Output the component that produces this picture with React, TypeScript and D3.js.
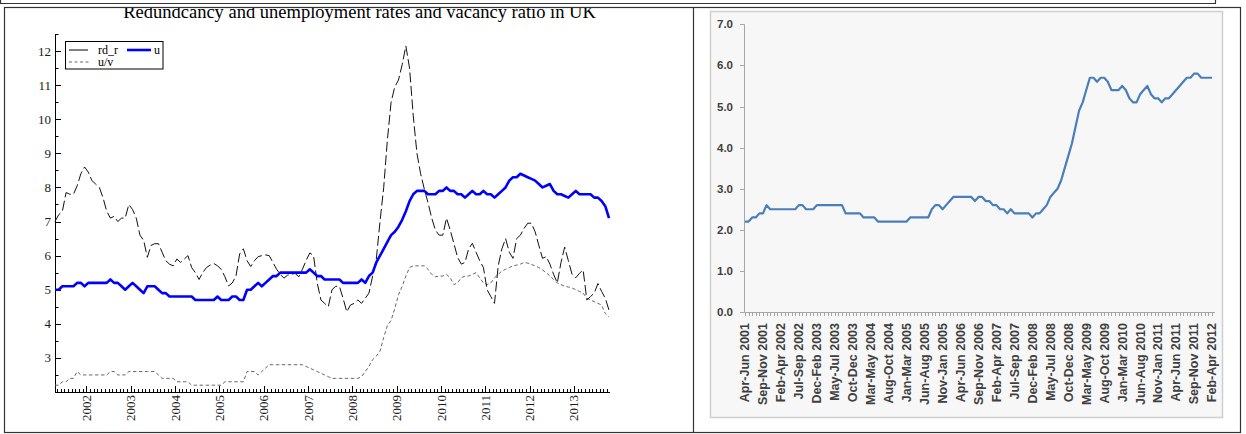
import React from "react";
import * as d3 from "d3";

// ---- left chart (monthly, first observation 2001M04) ----
const leftTitle = "Redundcancy and unemployment rates and vacancy ratio in UK";
const startYear = 2001;
const startMonth = 4;

const rdR: number[] = [
  7.0, 7.2, 7.3, 7.85, 7.8, 7.8, 8.05, 8.4, 8.6, // 2001
  8.45, 8.2, 8.1, 8.0, 7.7, 7.3, 7.1, 7.15, 7.0, 7.1, 7.1, 7.5, // 2002
  7.35, 7.1, 6.6, 6.45, 5.95, 6.3, 6.35, 6.35, 6.1, 5.85, 5.75, 5.7, // 2003
  5.9, 5.8, 5.9, 6.0, 5.65, 5.5, 5.3, 5.5, 5.65, 5.72, 5.77, 5.7, // 2004
  5.6, 5.38, 5.11, 5.2, 5.4, 6.05, 6.2, 5.85, 5.68, 5.85, 5.97, 6.0, // 2005
  6.02, 6.0, 5.8, 5.6, 5.45, 5.34, 5.43, 5.45, 5.48, 5.38, 5.6, 5.86, // 2006
  6.08, 6.0, 5.2, 4.7, 4.6, 4.5, 5.0, 5.1, 5.1, 4.75, 4.35, 4.55, // 2007
  4.6, 4.7, 4.6, 4.75, 4.9, 5.4, 5.9, 7.0, 8.0, 9.4, 10.5, 10.95, // 2008
  11.15, 11.6, 12.15, 11.5, 10.1, 9.0, 8.4, 7.95, 7.55, 7.1, 6.75, 6.6, // 2009
  6.6, 7.1, 6.75, 6.36, 5.95, 5.75, 5.8, 6.2, 6.36, 6.1, 5.85, 5.65, // 2010
  5.0, 4.8, 4.6, 5.7, 6.2, 6.5, 6.1, 5.92, 6.5, 6.6, 6.8, 6.95, // 2011
  6.95, 6.7, 6.3, 5.92, 5.97, 5.75, 5.45, 5.2, 5.8, 6.25, 5.85, 5.45, // 2012
  5.35, 5.48, 5.58, 4.7, 4.8, 4.9, 5.18, 4.95, 4.75, 4.4, // 2013
];

const unemp: number[] = [
  5.0, 5.0, 5.1, 5.1, 5.1, 5.1, 5.2, 5.2, 5.1,
  5.2, 5.2, 5.2, 5.2, 5.2, 5.2, 5.3, 5.2, 5.2, 5.1, 5.0, 5.1,
  5.2, 5.1, 5.0, 4.9, 5.1, 5.1, 5.1, 5.0, 4.9, 4.9, 4.8, 4.8,
  4.8, 4.8, 4.8, 4.8, 4.8, 4.7, 4.7, 4.7, 4.7, 4.7, 4.7, 4.8,
  4.7, 4.7, 4.7, 4.8, 4.8, 4.7, 4.7, 5.0, 5.0, 5.1, 5.2, 5.1,
  5.2, 5.3, 5.4, 5.4, 5.5, 5.5, 5.5, 5.5, 5.5, 5.5, 5.5, 5.5,
  5.6, 5.5, 5.4, 5.4, 5.3, 5.3, 5.3, 5.3, 5.3, 5.2, 5.2, 5.2,
  5.2, 5.2, 5.3, 5.2, 5.4, 5.5, 5.8, 6.0, 6.2, 6.4, 6.6, 6.7,
  6.85, 7.05, 7.3, 7.6, 7.8, 7.9, 7.9, 7.9, 7.8, 7.8, 7.8, 7.9,
  7.9, 8.0, 7.9, 7.9, 7.8, 7.8, 7.7, 7.8, 7.9, 7.8, 7.8, 7.9,
  7.8, 7.8, 7.7, 7.8, 7.9, 8.0, 8.2, 8.3, 8.3, 8.4, 8.35, 8.3,
  8.25, 8.2, 8.1, 8.0, 8.05, 8.1, 7.9, 7.8, 7.8, 7.75, 7.7, 7.8,
  7.9, 7.8, 7.8, 7.8, 7.8, 7.7, 7.7, 7.6, 7.45, 7.1,
];

const uOverV: number[] = [
  2.2, 2.2, 2.3, 2.3, 2.4, 2.4, 2.6, 2.5, 2.5,
  2.5, 2.5, 2.5, 2.5, 2.5, 2.5, 2.6, 2.6, 2.5, 2.5, 2.5, 2.6,
  2.6, 2.6, 2.6, 2.6, 2.6, 2.6, 2.6, 2.5, 2.4, 2.4, 2.4, 2.4,
  2.3, 2.3, 2.3, 2.3, 2.2, 2.2, 2.2, 2.2, 2.2, 2.2, 2.2, 2.2,
  2.2, 2.3, 2.3, 2.3, 2.3, 2.3, 2.3, 2.6, 2.6, 2.6, 2.5, 2.6,
  2.7, 2.8, 2.8, 2.8, 2.8, 2.8, 2.8, 2.8, 2.8, 2.8, 2.8, 2.75,
  2.7, 2.65, 2.6, 2.55, 2.5, 2.45, 2.4, 2.4, 2.4, 2.4, 2.4, 2.4,
  2.4, 2.4, 2.45, 2.6, 2.75, 2.95, 3.05, 3.2, 3.6, 3.95, 4.1, 4.45,
  4.85, 5.1, 5.4, 5.65, 5.7, 5.7, 5.7, 5.7, 5.6, 5.45, 5.38, 5.4,
  5.4, 5.45, 5.35, 5.15, 5.2, 5.35, 5.4, 5.4, 5.45, 5.5, 5.35, 5.2,
  5.15, 5.2, 5.35, 5.45, 5.55, 5.6, 5.65, 5.7, 5.72, 5.75, 5.8, 5.78,
  5.74, 5.7, 5.65, 5.58, 5.5, 5.4, 5.3, 5.2, 5.15, 5.1, 5.08, 5.05,
  5.0, 4.95, 4.9, 4.75, 4.7, 4.65, 4.6, 4.55, 4.3, 4.2,
];

const yearLabels = [2002, 2003, 2004, 2005, 2006, 2007, 2008, 2009, 2010, 2011, 2012, 2013];
const leftYTicks = [3, 4, 5, 6, 7, 8, 9, 10, 11, 12];

// ---- right chart (rolling three-month periods) ----
const rightPeriods = [
  "Apr-Jun 2001", "Sep-Nov 2001", "Feb-Apr 2002", "Jul-Sep 2002", "Dec-Feb 2003",
  "May-Jul 2003", "Oct-Dec 2003", "Mar-May 2004", "Aug-Oct 2004", "Jan-Mar 2005",
  "Jun-Aug 2005", "Nov-Jan 2005", "Apr-Jun 2006", "Sep-Nov 2006", "Feb-Apr 2007",
  "Jul-Sep 2007", "Dec-Feb 2008", "May-Jul 2008", "Oct-Dec 2008", "Mar-May 2009",
  "Aug-Oct 2009", "Jan-Mar 2010", "Jun-Aug 2010", "Nov-Jan 2011", "Apr-Jun 2011",
  "Sep-Nov 2011", "Feb-Apr 2012",
];
const labelEvery = 5;

const rightValues: number[] = [
  2.2, 2.2, 2.3, 2.3, 2.4, 2.4, 2.6, 2.5, 2.5, 2.5,
  2.5, 2.5, 2.5, 2.5, 2.5, 2.6, 2.6, 2.5, 2.5, 2.5,
  2.6, 2.6, 2.6, 2.6, 2.6, 2.6, 2.6, 2.6, 2.4, 2.4,
  2.4, 2.4, 2.4, 2.3, 2.3, 2.3, 2.3, 2.2, 2.2, 2.2,
  2.2, 2.2, 2.2, 2.2, 2.2, 2.2, 2.3, 2.3, 2.3, 2.3,
  2.3, 2.3, 2.5, 2.6, 2.6, 2.5, 2.6, 2.7, 2.8, 2.8,
  2.8, 2.8, 2.8, 2.8, 2.7, 2.8, 2.8, 2.7, 2.7, 2.6,
  2.6, 2.5, 2.5, 2.4, 2.5, 2.4, 2.4, 2.4, 2.4, 2.4,
  2.3, 2.4, 2.4, 2.5, 2.6, 2.8, 2.9, 3.0, 3.2, 3.5,
  3.8, 4.1, 4.5, 4.9, 5.1, 5.4, 5.7, 5.7, 5.6, 5.7,
  5.7, 5.6, 5.4, 5.4, 5.4, 5.5, 5.4, 5.2, 5.1, 5.1,
  5.3, 5.4, 5.5, 5.3, 5.2, 5.2, 5.1, 5.2, 5.2, 5.3,
  5.4, 5.5, 5.6, 5.7, 5.7, 5.8, 5.8, 5.7, 5.7, 5.7,
  5.7,
];
const rightYTicks = [0, 1, 2, 3, 4, 5, 6, 7];

const serif = "'Liberation Serif', 'Times New Roman', serif";
const sans = "'Liberation Sans', Arial, sans-serif";

const App: React.FC = () => {
  // left scales
  const monthT = (k: number) => startYear + (startMonth - 1 + k + 0.5) / 12;
  const xL = d3
    .scaleLinear()
    .domain([monthT(0), monthT(rdR.length - 1)])
    .range([55, 609]);
  const yL = d3.scaleLinear().domain([2, 12.5]).range([392, 34]);
  const lineL = (vals: number[]) =>
    d3
      .line<number>()
      .x((_, i) => xL(monthT(i)))
      .y((d) => yL(d))(vals) ?? "";

  const monthTicks = d3.range(rdR.length + 1).map((k) => startYear + (startMonth - 1 + k) / 12);
  const minorY = d3.range(2.5, 12.6, 1);

  // right scales
  const xR = d3.scaleLinear().domain([0, rightValues.length - 1]).range([745, 1212]);
  const yR = d3.scaleLinear().domain([0, 7]).range([312, 24.3]);
  const lineR =
    d3
      .line<number>()
      .x((_, i) => xR(i))
      .y((d) => yR(d))(rightValues) ?? "";

  const border = "#333";

  return (
    <svg
      width={1246}
      height={434}
      style={{ position: "absolute", left: 0, top: 0, background: "#fff" }}
    >
      <defs>
        <clipPath id="leftCell">
          <rect x={5} y={8} width={688} height={424} />
        </clipPath>
      </defs>

      {/* table borders */}
      <g stroke={border} strokeWidth={1.2} fill="none">
        <line x1={0} y1={3.5} x2={1216} y2={3.5} />
        <line x1={1215.5} y1={0} x2={1215.5} y2={3.5} />
        <line x1={0.5} y1={0} x2={0.5} y2={3.5} />
        <rect x={4.5} y={7.5} width={1236} height={425} />
        <line x1={693.5} y1={7.5} x2={693.5} y2={432.5} />
      </g>

      {/* left chart */}
      <g clipPath="url(#leftCell)" fontFamily={serif}>
        <text x={359.5} y={17.5} fontSize={18.5} textAnchor="middle" fill="#000">
          {leftTitle}
        </text>

        {/* axes */}
        <g stroke="#000" strokeWidth={1}>
          <line x1={55.5} y1={34} x2={55.5} y2={392.5} />
          <line x1={55} y1={392.5} x2={610} y2={392.5} />
          {leftYTicks.map((v) => (
            <line key={"ym" + v} x1={55.5} x2={61} y1={Math.round(yL(v)) + 0.5} y2={Math.round(yL(v)) + 0.5} />
          ))}
          {minorY.map((v) => (
            <line key={"yn" + v} x1={55.5} x2={58.5} y1={Math.round(yL(v)) + 0.5} y2={Math.round(yL(v)) + 0.5} />
          ))}
          {monthTicks.map((t, i) => {
            const isYear = Math.abs(t - Math.round(t)) < 1e-6;
            const x = Math.round(xL(t)) + 0.5;
            if (x < 55 || x > 610) return null;
            return <line key={"xt" + i} x1={x} x2={x} y1={392.5} y2={isYear ? 386 : 389} />;
          })}
        </g>

        {leftYTicks.map((v) => (
          <text key={"yl" + v} x={51} y={yL(v)} dy="0.35em" fontSize={13} textAnchor="end" fill="#1a1a1a">
            {v}
          </text>
        ))}
        {yearLabels.map((yr) => (
          <text
            key={"yr" + yr}
            transform={`translate(${xL(yr)},395) rotate(-90)`}
            dy="0.35em"
            fontSize={13}
            textAnchor="end"
            fill="#1a1a1a"
          >
            {yr}
          </text>
        ))}

        {/* series */}
        <path d={lineL(uOverV)} fill="none" stroke="#666" strokeWidth={1} strokeDasharray="3.5 2.5" />
        <path d={lineL(rdR)} fill="none" stroke="#111" strokeWidth={1} strokeDasharray="10 3.5" />
        <path d={lineL(unemp)} fill="none" stroke="#0000ff" strokeWidth={2.6} strokeLinejoin="round" />

        {/* legend */}
        <rect x={65.5} y={41.5} width={97.5} height={27.5} fill="#fff" stroke="#000" strokeWidth={1} />
        <line x1={69} x2={88} y1={50} y2={50} stroke="#000" strokeWidth={1} />
        <text x={98} y={54} fontSize={12} fill="#000">rd_r</text>
        <line x1={127} x2={151} y1={50} y2={50} stroke="#0000ff" strokeWidth={2.6} />
        <text x={154} y={54} fontSize={12} fill="#000">u</text>
        <line x1={69} x2={91} y1={62} y2={62} stroke="#666" strokeWidth={1} strokeDasharray="3 2.5" />
        <text x={98} y={66} fontSize={12} fill="#000">u/v</text>
      </g>

      {/* right chart */}
      <g fontFamily={sans}>
        <rect x={710.5} y={11.5} width={512} height={406} fill="#f7f7f7" stroke="#cfcfcf" strokeWidth={1.5} />
        <g stroke="#a6a6a6" strokeWidth={1}>
          <line x1={744.5} y1={yR(7)} x2={744.5} y2={312.5} />
          <line x1={744.5} y1={312.5} x2={1215} y2={312.5} />
          {rightYTicks.map((v) => (
            <line key={"ry" + v} x1={740} x2={744.5} y1={Math.round(yR(v)) + 0.5} y2={Math.round(yR(v)) + 0.5} />
          ))}
          {rightValues.map((_, i) => (
            <line key={"rx" + i} x1={Math.round(xR(i)) + 0.5} x2={Math.round(xR(i)) + 0.5} y1={312.5} y2={316} />
          ))}
        </g>
        {rightYTicks.map((v) => (
          <text
            key={"ryl" + v}
            x={733}
            y={yR(v)}
            dy="0.35em"
            fontSize={11.5}
            fontWeight="bold"
            textAnchor="end"
            fill="#404040"
          >
            {v.toFixed(1)}
          </text>
        ))}
        {rightPeriods.map((p, j) => (
          <text
            key={"rxl" + j}
            transform={`translate(${xR(j * labelEvery)},323) rotate(-90)`}
            dy="0.35em"
            fontSize={12.5}
            fontWeight="bold"
            textAnchor="end"
            fill="#404040"
          >
            {p}
          </text>
        ))}
        <path d={lineR} fill="none" stroke="#4a7ebb" strokeWidth={2.2} strokeLinejoin="round" />
      </g>
    </svg>
  );
};

export default App;
